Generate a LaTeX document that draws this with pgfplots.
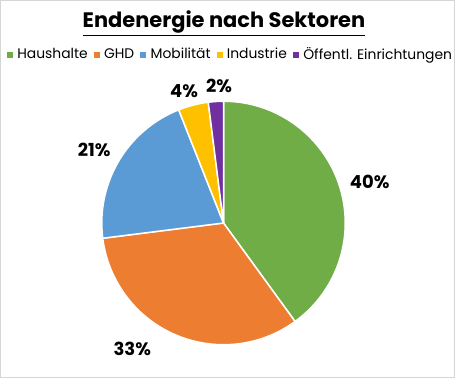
\documentclass[border=0pt]{standalone}
\usepackage{pgfplots}
\pgfplotsset{compat=1.18}
\usepackage{pgfplotstable}
\usepackage{fontspec}
\setmainfont{Poppins}
\definecolor{cA}{HTML}{70AD47}
\definecolor{cB}{HTML}{ED7D31}
\definecolor{cC}{HTML}{5B9BD5}
\definecolor{cD}{HTML}{FFC000}
\definecolor{cE}{HTML}{7030A0}
% value = share in percent; lx, ly = label position (px, origin bottom-left)
\pgfplotstableread{
idx value lx ly
0 40 370 196
1 33 132 29
2 21 94 228
3 4 184 287
4 2 219 292
}\piedata
\begin{document}
\begin{tikzpicture}
\foreach \i/\n in {0/A,1/B,2/C,3/D,4/E}{
  \pgfplotstablegetelem{\i}{value}\of\piedata \global\expandafter\let\csname v\n\endcsname\pgfplotsretval
  \pgfplotstablegetelem{\i}{lx}\of\piedata \global\expandafter\let\csname x\n\endcsname\pgfplotsretval
  \pgfplotstablegetelem{\i}{ly}\of\piedata \global\expandafter\let\csname y\n\endcsname\pgfplotsretval
}
\pgfmathsetmacro\aA{90}
\pgfmathsetmacro\aB{\aA-3.6*\vA}
\pgfmathsetmacro\aC{\aB-3.6*\vB}
\pgfmathsetmacro\aD{\aC-3.6*\vC}
\pgfmathsetmacro\aE{\aD-3.6*\vD}
\pgfmathsetmacro\aF{\aE-3.6*\vE}
\def\R{122pt}
\begin{axis}[
  scale only axis, width=455pt, height=378pt,
  xmin=0, xmax=455, ymin=0, ymax=378,
  ticks=none, clip=false,
  axis line style={draw=black!16, line width=1pt},
  legend columns=5,
  legend style={draw=none, fill=none, at={(0.5055,0.857)}, anchor=center,
    font=\fontsize{13.9}{16}\selectfont, /tikz/every even column/.append style={column sep=5pt},
    inner sep=0pt, nodes={inner xsep=1pt, inner ysep=0pt}},
  legend cell align=left,
]
\addlegendimage{legend image code/.code={\fill[cA] (0pt,-2.5pt) rectangle (5pt,2.5pt); \path (9pt,0pt);}}
\addlegendentry{Haushalte}
\addlegendimage{legend image code/.code={\fill[cB] (0pt,-2.5pt) rectangle (5pt,2.5pt); \path (9pt,0pt);}}
\addlegendentry{GHD}
\addlegendimage{legend image code/.code={\fill[cC] (0pt,-2.5pt) rectangle (5pt,2.5pt); \path (9pt,0pt);}}
\addlegendentry{Mobilität}
\addlegendimage{legend image code/.code={\fill[cD] (0pt,-2.5pt) rectangle (5pt,2.5pt); \path (9pt,0pt);}}
\addlegendentry{Industrie}
\addlegendimage{legend image code/.code={\fill[cE] (0pt,-2.5pt) rectangle (5pt,2.5pt); \path (9pt,0pt);}}
\addlegendentry{Öffentl. Einrichtungen}
\foreach \c/\s/\e in {A/A/B, B/B/C, C/C/D, D/D/E, E/E/F}{
  \edef\temp{\noexpand\fill[c\c, draw=white, line width=1.5pt, line join=round] (axis cs:223.5,155) -- ++(\csname a\s\endcsname:\R) arc[start angle=\csname a\s\endcsname, end angle=\csname a\e\endcsname, radius=\R] -- cycle;}
  \temp
}
\foreach \n in {A,B,C,D,E}{
  \edef\temp{\noexpand\node[font=\noexpand\fontsize{18}{20}\noexpand\selectfont\noexpand\bfseries] at (axis cs:\csname x\n\endcsname,\csname y\n\endcsname) {\csname v\n\endcsname\noexpand\%};}
  \temp
}
\node[font=\fontsize{21}{24}\selectfont\bfseries] at (axis cs:224,355) {\underline{Endenergie nach Sektoren}};
\end{axis}
\end{tikzpicture}
\end{document}
